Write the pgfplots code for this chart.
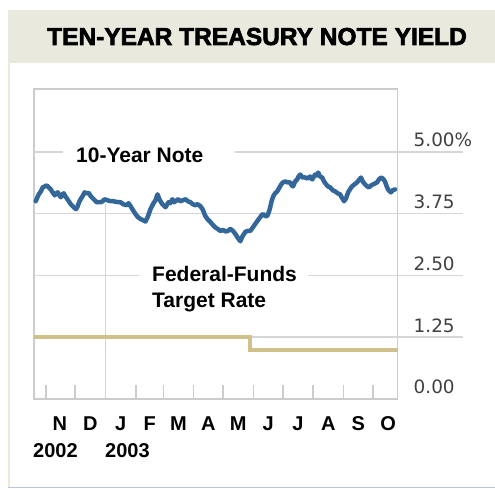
\documentclass[border=0pt]{standalone}
\usepackage{pgfplots}
\pgfplotsset{compat=1.18}
\usepackage{fontspec}
\setmainfont{Liberation Sans}
\newfontfamily\titlefont{Liberation Sans}[BoldFeatures={FakeBold=2.6}]
\newfontfamily\tickfont{DejaVu Sans}
\definecolor{band}{RGB}{233,233,221}
\definecolor{gridc}{RGB}{214,214,214}
\definecolor{framec}{RGB}{204,204,204}
\definecolor{noteblue}{RGB}{51,103,153}
\definecolor{fedtan}{RGB}{208,192,140}
\definecolor{botline}{RGB}{184,200,216}
\pgfplotstableread{
d v
-10.2 4.00
-8.5 4.08
-7.1 4.14
-5 4.20
-3.1 4.28
-1 4.30
1.0 4.32
3 4.28
5.1 4.24
7 4.18
9.2 4.12
11 4.16
12.2 4.18
14 4.12
15.3 4.08
17 4.14
18.3 4.16
20 4.10
21.4 4.06
23.5 4.00
25.5 3.94
27.5 3.90
29.5 3.86
31 3.84
32.6 3.90
34 3.98
35.6 4.04
37.5 4.10
39.7 4.18
41.5 4.16
43.8 4.17
46 4.10
47.9 4.06
50 4.02
51.9 3.98
54 3.98
56.0 3.98
58 4.00
60.1 4.04
63 4.02
66.2 4.00
69 4.00
71.3 3.99
74 3.98
76.4 3.98
79 3.94
82.5 3.92
84.5 3.96
86.6 3.90
89 3.82
91.6 3.74
94 3.68
96.7 3.64
99 3.62
101.8 3.59
104 3.68
106.9 3.84
110 3.96
112 4.02
114.1 4.14
115.5 4.06
117.1 4.00
119 3.94
122.2 3.88
124 3.94
125.3 3.98
127 3.96
129.3 4.04
131 3.98
132.4 4.00
135 4.04
137.5 4.00
140 4.02
142.6 4.04
145 4.00
147.7 3.98
150 3.94
152.7 3.92
155 3.94
157.8 3.90
160 3.84
162.9 3.70
165 3.64
168.0 3.58
170.5 3.52
173.1 3.47
175.5 3.44
178.2 3.40
181 3.42
183.3 3.39
186 3.40
188.4 3.44
191 3.40
193.5 3.34
196 3.26
198.6 3.19
200.5 3.28
203.7 3.38
206 3.40
208.8 3.40
211 3.46
213.8 3.54
216 3.60
218.9 3.68
220.5 3.72
222.0 3.74
224 3.70
226.1 3.70
228 3.80
229.1 3.88
230.5 4.00
232.2 4.10
234 4.16
236.3 4.20
238 4.26
240.3 4.34
242 4.38
244.4 4.40
247 4.38
249.5 4.38
251 4.32
252.5 4.30
254.5 4.40
256.6 4.44
258 4.50
259.7 4.54
262 4.48
264.8 4.48
267 4.46
269.9 4.50
272 4.44
274.9 4.54
276.5 4.52
278.0 4.58
280 4.50
282.1 4.48
284 4.40
286.2 4.34
288 4.30
290.2 4.28
293 4.22
295.3 4.20
298 4.16
300.4 4.14
302 4.08
304.5 4.00
306.5 4.06
308.6 4.18
310.5 4.24
312.6 4.30
315 4.34
317.7 4.38
320 4.44
321.8 4.48
323.5 4.40
325.9 4.34
328 4.30
329.9 4.28
332 4.32
334.0 4.34
336 4.36
338.1 4.38
340 4.44
342.2 4.48
344 4.46
346.2 4.40
348 4.30
349.3 4.24
351 4.20
352.3 4.18
354 4.22
356.4 4.24
}\notetable
\begin{document}
\begin{tikzpicture}[x=1pt,y=1pt]
\fill[white] (0,0) rectangle (495,489);
\fill[band] (8,426) rectangle (495,479);
\draw[band, line width=1.5pt] (8.75,426) -- (8.75,1.5);
\draw[botline, line width=1.2pt] (8,1.2) -- (495,1.2);
\node[font=\titlefont\bfseries\fontsize{24.5}{28}\selectfont, anchor=base, inner sep=0pt] at (257,444) {TEN-YEAR TREASURY NOTE YIELD};
\begin{axis}[
  at={(34pt,90pt)}, anchor=south west,
  width=363.5pt, height=310pt, scale only axis,
  xmin=-12, xmax=359, ymin=0, ymax=6.27,
  clip=false,
  axis line style={framec, line width=1.5pt},
  xtick={14.5,45.5,76.5,106,135.5,166,196.5,227,257.5,288.5,319,349.5},
  xticklabels={N,D,J,F,M,A,M,J,J,A,S,O},
  major tick length=0pt,
  extra x ticks={0,30,92,120,151,181,212,242,273,304,334},
  extra x tick labels={},
  extra x tick style={major tick length=14pt, tick style={framec, line width=1.5pt}},
  tick align=inside, xtick pos=bottom,
  xticklabel style={font=\bfseries\fontsize{20}{22}\selectfont, anchor=base, inner sep=0pt, yshift=-32pt},
  ytick={0,1.25,2.5,3.75,5},
  yticklabels={0.00,1.25,2.50,3.75,5.00\%},
  yticklabel pos=right, ytick pos=right,
  yticklabel style={font=\tickfont\fontsize{18.4}{20}\selectfont, text=black!75, anchor=base west, inner sep=0pt, xshift=16pt, yshift=5pt},
]
\draw[gridc, line width=1.5pt] (axis cs:-12,5) -- (axis cs:17.3,5);
\draw[gridc, line width=1.5pt] (axis cs:193.5,5) -- (axis cs:359,5) -- ++(65pt,0pt);
\draw[gridc, line width=1.5pt] (axis cs:-12,3.75) -- (axis cs:359,3.75) -- ++(65pt,0pt);
\draw[gridc, line width=1.5pt] (axis cs:-12,2.5) -- (axis cs:94.7,2.5);
\draw[gridc, line width=1.5pt] (axis cs:267.8,2.5) -- (axis cs:359,2.5) -- ++(65pt,0pt);
\draw[gridc, line width=1.5pt] (axis cs:-12,1.25) -- (axis cs:359,1.25) -- ++(65pt,0pt);
\draw[gridc, line width=1.5pt] (axis cs:61,0) -- (axis cs:61,3.95);
\addplot[fedtan, line width=4pt, const plot, forget plot] coordinates {(-12,1.25) (208.8,1.0) (359,1.0)};
\addplot[noteblue, line width=4.5pt, line join=round, line cap=round] table[x=d,y=v] {\notetable};
\end{axis}
\node[anchor=base west, inner sep=0pt, font=\bfseries\fontsize{21}{24}\selectfont] at (76,326) {10-Year Note};
\node[anchor=base west, inner sep=0pt, font=\bfseries\fontsize{21}{24}\selectfont] at (152,207) {Federal-Funds};
\node[anchor=base west, inner sep=0pt, font=\bfseries\fontsize{21}{24}\selectfont] at (152,181) {Target Rate};
\node[anchor=base west, inner sep=0pt, font=\bfseries\fontsize{20}{22}\selectfont] at (33,31) {2002};
\node[anchor=base west, inner sep=0pt, font=\bfseries\fontsize{20}{22}\selectfont] at (105,31) {2003};
\pgfresetboundingbox
\useasboundingbox (0,0) rectangle (495,489);
\end{tikzpicture}
\end{document}
